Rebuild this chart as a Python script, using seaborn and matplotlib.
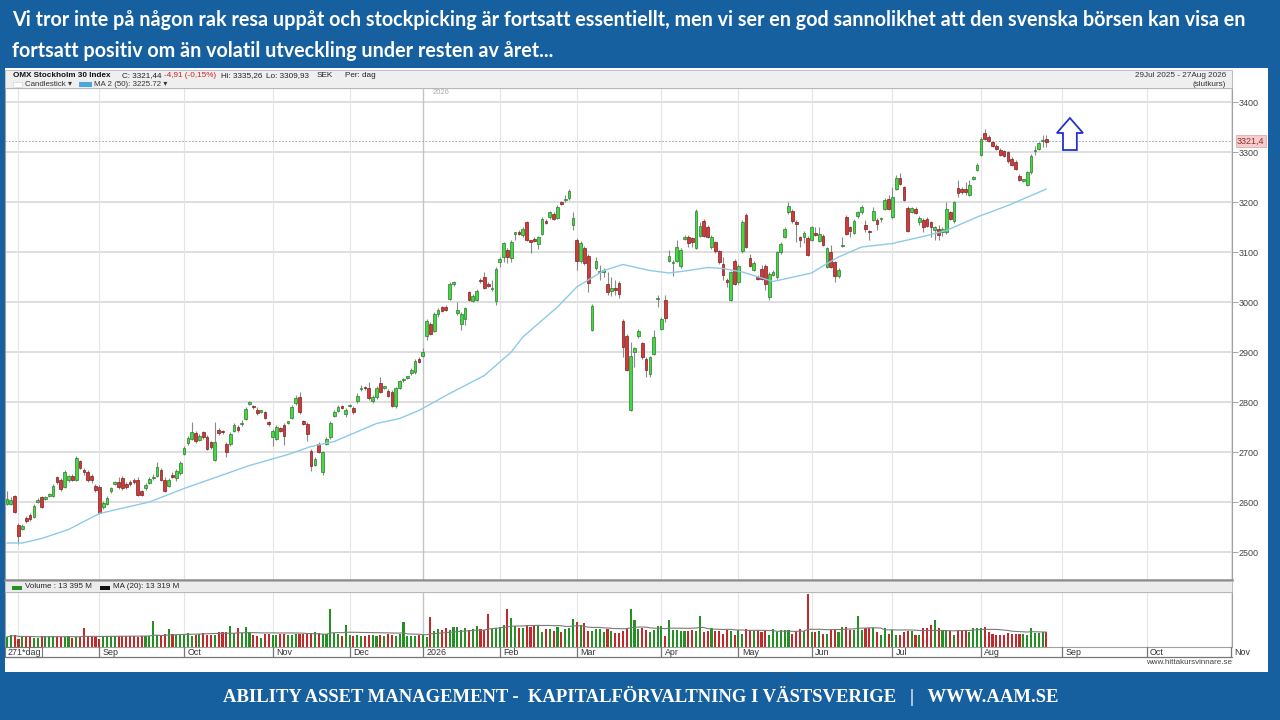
import pandas as pd
import matplotlib
matplotlib.use("Agg")
import matplotlib.pyplot as plt
import matplotlib.patches as mpatches
import seaborn as sns

# OMX Stockholm 30, daily candles (29 Jul 2025 -> late Aug 2026)
opens = [
    2597, 2597, 2612, 2555, 2547, 2568, 2574, 2571, 2600, 2610,
    2606, 2613, 2613, 2650, 2645, 2631, 2645, 2652, 2645, 2682,
    2664, 2660, 2652, 2633, 2631, 2590, 2597, 2622, 2637, 2640,
    2648, 2637, 2640, 2645, 2645, 2622, 2628, 2638, 2648, 2653,
    2665, 2645, 2633, 2655, 2649, 2658, 2697, 2718, 2727, 2739,
    2725, 2740, 2731, 2720, 2685, 2745, 2741, 2717, 2717, 2743,
    2751, 2756, 2767, 2797, 2791, 2785, 2781, 2780, 2758, 2730,
    2727, 2748, 2755, 2759, 2769, 2798, 2810, 2762, 2757, 2703,
    2675, 2717, 2660, 2717, 2730, 2773, 2783, 2792, 2777, 2792,
    2788, 2802, 2826, 2829, 2828, 2803, 2810, 2839, 2829, 2823,
    2821, 2792, 2829, 2844, 2849, 2858, 2860, 2887, 2893, 2933,
    2957, 2943, 2977, 2990, 2991, 3007, 3037, 2978, 2957, 2967,
    3020, 3003, 3005, 3045, 3051, 3035, 3026, 3003, 3080, 3090,
    3105, 3089, 3137, 3141, 3135, 3160, 3122, 3127, 3117, 3137,
    3163, 3170, 3177, 3169, 3199, 3204, 3208, 3155, 3125, 3082,
    3109, 3093, 2945, 3068, 3060, 3060, 3037, 3023, 3026, 3039,
    2963, 2933, 2785, 2900, 2932, 2918, 2887, 2857, 2897, 3006,
    2947, 3005, 3083, 3078, 3083, 3072, 3127, 3130, 3128, 3109,
    3133, 3163, 3151, 3110, 3120, 3102, 3077, 3045, 3005, 3083,
    3040, 3102, 3175, 3089, 3065, 3051, 3067, 3073, 3010, 3055,
    3050, 3100, 3131, 3180, 3183, 3158, 3130, 3130, 3129, 3125,
    3138, 3123, 3133, 3071, 3101, 3080, 3052, 3112, 3171, 3150,
    3139, 3172, 3180, 3155, 3141, 3165, 3165, 3166, 3187, 3207,
    3170, 3227, 3248, 3230, 3189, 3181, 3187, 3160, 3165, 3167,
    3160, 3145, 3147, 3140, 3140, 3180, 3162, 3229, 3227, 3227,
    3215, 3247, 3265, 3295, 3338, 3330, 3320, 3313, 3305, 3302,
    3300, 3287, 3281, 3253, 3243, 3235, 3260, 3302, 3307, 3322, 3326,
]
closes = [
    2607, 2605, 2580, 2533, 2553, 2563, 2567, 2593, 2605, 2591,
    2610, 2616, 2633, 2640, 2627, 2660, 2652, 2645, 2689, 2669,
    2660, 2645, 2645, 2625, 2578, 2598, 2608, 2628, 2640, 2630,
    2629, 2631, 2637, 2640, 2615, 2615, 2635, 2647, 2650, 2671,
    2645, 2623, 2645, 2651, 2663, 2678, 2709, 2729, 2740, 2722,
    2733, 2730, 2707, 2710, 2721, 2738, 2740, 2701, 2737, 2755,
    2745, 2757, 2787, 2798, 2790, 2778, 2782, 2769, 2757, 2742,
    2751, 2743, 2733, 2760, 2791, 2808, 2780, 2757, 2737, 2673,
    2687, 2701, 2700, 2727, 2759, 2780, 2790, 2789, 2785, 2793,
    2780, 2813, 2827, 2828, 2808, 2810, 2828, 2821, 2830, 2813,
    2793, 2828, 2842, 2845, 2850, 2865, 2883, 2881, 2901, 2963,
    2937, 2977, 2985, 2983, 2985, 3037, 3038, 2985, 2977, 2988,
    3005, 3013, 3023, 3042, 3029, 3033, 3027, 3067, 3087, 3118,
    3090, 3121, 3138, 3137, 3147, 3125, 3121, 3123, 3130, 3167,
    3159, 3180, 3167, 3191, 3197, 3205, 3223, 3168, 3083, 3119,
    3078, 3039, 2993, 3083, 3061, 3065, 3020, 3029, 3025, 3017,
    2910, 2865, 2892, 2908, 2943, 2890, 2865, 2890, 2930, 3007,
    2967, 2968, 3093, 3079, 3110, 3105, 3131, 3118, 3121, 3183,
    3153, 3133, 3131, 3131, 3102, 3080, 3055, 3041, 3060, 3037,
    3073, 3160, 3111, 3073, 3079, 3047, 3047, 3037, 3057, 3061,
    3100, 3117, 3147, 3193, 3162, 3157, 3125, 3139, 3095, 3150,
    3135, 3137, 3115, 3108, 3071, 3053, 3065, 3113, 3137, 3143,
    3163, 3180, 3191, 3147, 3140, 3182, 3157, 3167, 3205, 3187,
    3211, 3248, 3237, 3205, 3143, 3188, 3179, 3169, 3150, 3153,
    3150, 3150, 3135, 3147, 3187, 3167, 3200, 3218, 3220, 3220,
    3235, 3248, 3275, 3327, 3327, 3323, 3313, 3307, 3295, 3293,
    3282, 3275, 3267, 3245, 3244, 3260, 3293, 3303, 3318, 3325, 3321,
]
highs = [
    2622, 2610, 2615, 2558, 2556, 2572, 2578, 2596, 2608, 2612,
    2613, 2619, 2636, 2653, 2649, 2664, 2655, 2656, 2692, 2684,
    2668, 2664, 2657, 2637, 2634, 2602, 2612, 2631, 2643, 2650,
    2652, 2641, 2645, 2648, 2650, 2625, 2638, 2651, 2656, 2681,
    2668, 2650, 2649, 2660, 2666, 2682, 2712, 2733, 2760, 2742,
    2737, 2743, 2735, 2723, 2760, 2748, 2744, 2720, 2740, 2758,
    2754, 2765, 2790, 2803, 2794, 2790, 2785, 2783, 2762, 2746,
    2755, 2751, 2758, 2763, 2794, 2815, 2820, 2765, 2760, 2706,
    2690, 2720, 2703, 2730, 2762, 2784, 2794, 2795, 2788, 2797,
    2792, 2818, 2835, 2832, 2840, 2814, 2832, 2850, 2833, 2826,
    2824, 2831, 2845, 2848, 2853, 2868, 2887, 2890, 2909, 2966,
    2960, 2980, 2988, 2993, 2995, 3040, 3042, 3000, 2980, 2991,
    3023, 3016, 3026, 3048, 3060, 3040, 3045, 3070, 3090, 3121,
    3108, 3124, 3141, 3144, 3150, 3163, 3124, 3130, 3133, 3170,
    3166, 3183, 3180, 3194, 3202, 3215, 3226, 3180, 3128, 3122,
    3112, 3096, 2996, 3090, 3075, 3068, 3060, 3050, 3045, 3042,
    2966, 2936, 2920, 2911, 2946, 2921, 2890, 2893, 2945, 3015,
    2970, 3015, 3105, 3085, 3125, 3108, 3134, 3135, 3131, 3186,
    3160, 3166, 3154, 3134, 3123, 3105, 3090, 3048, 3063, 3086,
    3076, 3165, 3178, 3096, 3083, 3054, 3075, 3076, 3060, 3064,
    3103, 3120, 3150, 3200, 3186, 3165, 3133, 3142, 3132, 3153,
    3150, 3150, 3136, 3111, 3115, 3083, 3068, 3130, 3174, 3153,
    3166, 3183, 3194, 3165, 3145, 3190, 3168, 3170, 3208, 3215,
    3230, 3255, 3258, 3233, 3192, 3191, 3190, 3172, 3168, 3170,
    3163, 3153, 3155, 3150, 3200, 3183, 3203, 3245, 3230, 3240,
    3245, 3252, 3278, 3330, 3347, 3335, 3323, 3316, 3308, 3305,
    3303, 3290, 3284, 3256, 3247, 3263, 3296, 3312, 3321, 3335, 3335,
]
lows = [
    2595, 2595, 2578, 2517, 2544, 2558, 2563, 2569, 2598, 2589,
    2604, 2611, 2611, 2636, 2622, 2628, 2641, 2642, 2643, 2666,
    2655, 2641, 2638, 2620, 2576, 2586, 2595, 2619, 2634, 2627,
    2625, 2627, 2633, 2636, 2612, 2612, 2625, 2636, 2645, 2650,
    2642, 2620, 2630, 2648, 2643, 2655, 2694, 2715, 2724, 2718,
    2722, 2726, 2704, 2706, 2682, 2735, 2736, 2690, 2713, 2740,
    2741, 2752, 2765, 2794, 2787, 2775, 2778, 2766, 2752, 2712,
    2724, 2740, 2715, 2756, 2766, 2795, 2777, 2754, 2722, 2662,
    2672, 2698, 2655, 2714, 2727, 2770, 2780, 2786, 2770, 2790,
    2776, 2799, 2823, 2825, 2805, 2799, 2807, 2818, 2826, 2810,
    2790, 2789, 2826, 2841, 2846, 2855, 2857, 2878, 2890, 2925,
    2934, 2940, 2970, 2980, 2982, 3004, 3033, 2975, 2945, 2955,
    3002, 3000, 3002, 3039, 3026, 3030, 3023, 2995, 3070, 3080,
    3078, 3080, 3124, 3134, 3130, 3122, 3098, 3120, 3107, 3134,
    3156, 3167, 3164, 3166, 3194, 3201, 3205, 3145, 3065, 3079,
    3075, 3020, 2942, 3065, 3045, 3050, 3015, 3012, 3015, 3008,
    2890, 2862, 2782, 2870, 2929, 2887, 2850, 2850, 2894, 2990,
    2944, 2960, 3080, 3053, 3080, 3069, 3124, 3110, 3110, 3106,
    3130, 3130, 3128, 3107, 3099, 3077, 3045, 3030, 3002, 3034,
    3037, 3099, 3108, 3070, 3062, 3044, 3044, 3025, 3005, 3052,
    3047, 3097, 3128, 3177, 3159, 3120, 3110, 3118, 3092, 3122,
    3132, 3120, 3112, 3068, 3068, 3040, 3049, 3110, 3134, 3130,
    3136, 3169, 3177, 3140, 3125, 3162, 3145, 3160, 3184, 3184,
    3167, 3224, 3234, 3202, 3140, 3178, 3176, 3155, 3140, 3150,
    3130, 3125, 3125, 3132, 3137, 3164, 3159, 3210, 3217, 3215,
    3212, 3244, 3262, 3292, 3324, 3320, 3310, 3304, 3292, 3290,
    3279, 3272, 3264, 3242, 3240, 3232, 3257, 3295, 3304, 3310, 3310,
]
# daily turnover, billions SEK (one row per month)
volume_bn = [
    9.0, 10.5, 11.0,
    7.5, 9.0, 9.2, 9.5, 7.8, 8.0, 9.6, 9.4, 9.8, 9.5, 9.0, 9.0, 8.8, 9.7, 8.0, 9.2, 9.0, 17.0, 9.5, 10.0, 8.5,
    7.0, 9.5, 9.5, 9.6, 9.4, 9.5, 9.8, 9.6, 9.5, 9.8, 9.0, 10.0, 10.2, 10.0, 23.0, 10.5, 10.8, 12.0, 16.0, 11.5, 10.5, 11.0,
    12.0, 12.5, 10.0, 11.0, 12.0, 12.5, 11.0, 10.5, 11.0, 13.0, 13.5, 13.0, 19.0, 12.5, 17.0, 12.5, 18.0, 13.0, 11.0, 10.0, 8.0, 12.0, 11.5,
    11.0, 10.5, 11.5, 12.0, 10.5, 11.0, 12.0, 11.5, 12.0, 12.0, 12.5, 13.0, 12.5, 11.5, 11.5, 34.0, 12.5, 11.5, 10.0, 20.0,
    11.0, 10.0, 10.5, 9.5, 10.0, 11.0, 10.5, 10.0, 11.0, 10.0, 11.5, 11.0, 10.0, 11.5, 22.0, 9.5, 9.5, 10.0, 10.5,
    11.0, 9.0, 27.0, 14.0, 16.0, 15.0, 16.5, 15.0, 17.5, 17.5, 15.5, 16.5, 15.0, 16.0, 19.0, 16.0, 15.0, 29.0, 16.0, 17.0,
    18.0, 20.0, 34.0, 26.0, 18.5, 17.0, 17.0, 20.0, 18.0, 19.0, 19.0, 13.5, 16.0, 16.0, 14.0, 18.0, 13.0, 16.0, 16.5, 25.0,
    22.0, 20.0, 21.0, 14.5, 14.5, 16.0, 16.0, 13.0, 16.0, 14.0, 12.5, 12.5, 14.0, 17.0, 34.0, 24.0, 16.0, 17.0, 15.0, 13.0, 15.0, 19.0,
    19.0, 9.5, 24.0, 15.0, 15.0, 14.0, 14.0, 14.0, 15.0, 14.0, 28.0, 13.5, 14.0, 16.5, 14.0, 14.0, 11.5, 15.5, 14.5, 11.0,
    15.0, 12.0, 16.0, 15.5, 14.0, 15.0, 13.0, 14.0, 11.0, 16.0, 13.5, 15.0, 15.0, 15.0, 12.0, 14.0, 16.0, 14.0, 47.0,
    13.0, 13.5, 14.0, 11.5, 11.5, 15.0, 15.5, 13.0, 18.0, 18.0, 15.5, 15.5, 28.0, 15.0, 16.5, 16.5, 16.5, 13.0, 10.5, 16.5, 11.5,
    15.5, 10.5, 10.5, 13.0, 14.5, 14.5, 11.0, 11.0, 16.5, 16.5, 20.0, 24.0, 16.5, 15.5, 15.5, 14.0, 11.0, 14.5, 15.5, 15.5, 13.5, 17.0, 17.0,
    17.0, 17.8, 13.4, 11.7, 11.1, 11.1, 10.5, 12.5, 11.7, 11.7, 11.7, 11.7, 11.1, 17.0, 12.5, 12.5, 13.4, 13.395,
]
# MA(50) read at a few trading-day positions
ma50_day = [0, 4, 9, 16, 24, 37, 46, 63, 73, 79, 85, 96, 102, 107, 115, 124, 131, 134, 143, 148,
            155, 160, 167, 172, 177, 182, 186, 191, 199, 209, 213, 216, 222, 230, 239, 244, 252, 260, 270]
ma50_val = [2518, 2518, 2527, 2545, 2577, 2600, 2627, 2673, 2695, 2711, 2721, 2757, 2767, 2783, 2817, 2853, 2900, 2930, 2990, 3030,
            3063, 3075, 3063, 3058, 3063, 3069, 3067, 3060, 3041, 3058, 3077, 3090, 3110, 3117, 3133, 3143, 3170, 3193, 3226]

price_ticks = [2500, 2600, 2700, 2800, 2900, 3000, 3100, 3200, 3300, 3400]
last_close = 3321.44
se_holidays = ["2025-12-24", "2025-12-25", "2025-12-26", "2025-12-31", "2026-01-01", "2026-01-06",
               "2026-04-03", "2026-04-06", "2026-05-01", "2026-05-14", "2026-06-19"]

title_lines = [
    "Vi tror inte på någon rak resa uppåt och stockpicking är fortsatt essentiellt, men vi ser en god sannolikhet att den svenska börsen kan visa en",
    "fortsatt positiv om än volatil utveckling under resten av året...",
]
footer = "ABILITY ASSET MANAGEMENT -  KAPITALFÖRVALTNING I VÄSTSVERIGE   |   WWW.AAM.SE"

BLUE = "#17609f"
GREEN_BODY, GREEN_EDGE = "#45d845", "#2b7a2b"
RED_BODY, RED_EDGE = "#d23a3a", "#7d1f1f"

sns.set_theme(style="white")
plt.rcParams["font.family"] = ["Liberation Sans", "DejaVu Sans"]

W, H = 1280, 720


def fx(px):
    return px / W


def fy(py):
    return 1 - py / H


df = pd.DataFrame({"open": opens, "close": closes, "high": highs, "low": lows, "vol": volume_bn})
df["i"] = range(len(df))
df["up"] = df["close"] >= df["open"]
df["vol_ma"] = df["vol"].rolling(20, min_periods=1).mean()

cbd = pd.offsets.CustomBusinessDay(holidays=se_holidays)
dates = pd.date_range("2025-07-29", periods=330, freq=cbd)
month_starts = [k for k in range(1, len(dates)) if dates[k].month != dates[k - 1].month]

XMIN, XMAX = -0.5, 318.2

fig = plt.figure(figsize=(12.8, 7.2), dpi=100)
fig.patch.set_facecolor(BLUE)
renderer = fig.canvas.get_renderer()

fig.add_artist(mpatches.Rectangle((fx(5), fy(672)), fx(1263), 604 / H, transform=fig.transFigure,
                                  facecolor="white", edgecolor="none", zorder=0))
# chart header strip
fig.add_artist(mpatches.Rectangle((fx(5), fy(88)), fx(1227), 18 / H, transform=fig.transFigure,
                                  facecolor="#efefef", edgecolor="#b5b5b5", lw=0.6, zorder=1))
# volume header strip
fig.add_artist(mpatches.Rectangle((fx(5), fy(592)), fx(1227), 11 / H, transform=fig.transFigure,
                                  facecolor="#ececec", edgecolor="#b5b5b5", lw=0.6, zorder=1))

# banner texts
for line, ypx in zip(title_lines, [20, 51]):
    fig.text(fx(12), fy(ypx), line, color="white", fontsize=14.2, fontweight="bold",
             family=["Lato", "DejaVu Sans"], va="center", ha="left")
fig.text(fx(641), fy(696), footer, color="white", fontsize=13.4, fontweight="bold",
         family=["Liberation Serif", "DejaVu Serif"], va="center", ha="center")

# ---- price panel ----
ax = fig.add_axes([fx(5), fy(580), fx(1227), 492 / H])
ax.set_facecolor("white")
for p in price_ticks:
    ax.axhline(p, color="#dedede", lw=1.4, zorder=0)
for k in month_starts:
    jan = dates[k].month == 1
    ax.axvline(k, color="#c4c4c4" if jan else "#e4e4e4", lw=1.0 if jan else 0.8, zorder=0)

ax.vlines(df["i"], df["low"], df["high"], color="#8a8a8a", lw=0.8, zorder=2)
for up, body, edge in [(True, GREEN_BODY, GREEN_EDGE), (False, RED_BODY, RED_EDGE)]:
    d = df[df["up"] == up]
    lo = d[["open", "close"]].min(axis=1)
    h = (d["close"] - d["open"]).abs().clip(lower=2.5)
    ax.bar(d["i"], h, bottom=lo, width=0.7, color=body, edgecolor=edge, linewidth=0.5, zorder=3)

sns.lineplot(x=ma50_day, y=ma50_val, ax=ax, color="#8ccbe8", lw=1.0, zorder=4)
ax.axhline(last_close, color="#9a9a9a", lw=0.6, ls=(0, (2, 2)), zorder=1)

ax.set_xlim(XMIN, XMAX)
ax.set_ylim(2444, 3428)
ax.yaxis.tick_right()
ax.set_yticks(price_ticks)
ax.set_yticklabels([str(p) for p in price_ticks])
ax.tick_params(axis="y", right=True, length=4, width=0.6, color="#999999", labelsize=6.5,
               labelcolor="#444444", pad=1)
ax.set_xticks([])
ax.set_xlabel("")
ax.set_ylabel("")
for s in ax.spines.values():
    s.set_color("#a0a0a0")
    s.set_linewidth(0.8)
ax.spines["bottom"].set_linewidth(1.8)
ax.spines["bottom"].set_color("#8c8c8c")

jan_idx = [k for k in month_starts if dates[k].month == 1][0]
ax.text(jan_idx + 2.5, 3419, "2026", fontsize=5.5, color="#aaaaaa", va="center", ha="left")
ax.text(1.004, last_close, "3321,4", transform=ax.get_yaxis_transform(), fontsize=6.5,
        color="#8a3030", va="center", ha="left", clip_on=False,
        bbox=dict(boxstyle="square,pad=0.15", facecolor="#f6cccc", edgecolor="#e0a0a0", lw=0.5))

# the blue "upwards" arrow
ax.add_patch(mpatches.FancyArrow(276.1, 3304, 0, 64, width=3.6, head_width=6.8, head_length=30,
                                 length_includes_head=True, facecolor="white", edgecolor="#2233cc",
                                 lw=1.3, zorder=5))

# ---- volume panel ----
axv = fig.add_axes([fx(5), fy(647), fx(1227), 55 / H])
axv.set_facecolor("white")
for k in month_starts:
    jan = dates[k].month == 1
    axv.axvline(k, color="#c4c4c4" if jan else "#e4e4e4", lw=1.0 if jan else 0.8, zorder=0)
vcols = ["#229022" if u else "#c3282b" for u in df["up"]]
axv.bar(df["i"], df["vol"], width=0.55, color=vcols, linewidth=0, zorder=2)
sns.lineplot(x=df["i"], y=df["vol_ma"], ax=axv, color="#7a7a7a", lw=0.8, zorder=3)
axv.set_xlim(XMIN, XMAX)
axv.set_ylim(0, 49)
axv.set_xticks([])
axv.set_yticks([])
axv.set_xlabel("")
axv.set_ylabel("")
for s in axv.spines.values():
    s.set_color("#a0a0a0")
    s.set_linewidth(0.8)

# ---- month label strip ----
axl = fig.add_axes([fx(5), fy(657), fx(1227), 10 / H])
axl.set_xlim(XMIN, XMAX)
axl.set_ylim(0, 1)
axl.axis("off")
axl.axhline(0, color="#777777", lw=0.9, clip_on=False)
for k in month_starts[1:]:
    axl.plot([k, k], [0, 1], color="#777777", lw=0.9, clip_on=False)
    lab = "2026" if dates[k].month == 1 else dates[k].strftime("%b")
    axl.text(k + 0.9, 0.45, lab, fontsize=6.4, color="#333333", va="center", ha="left", clip_on=False)
axl.add_patch(mpatches.Rectangle((XMIN, 0), 9.6, 1, facecolor="none", edgecolor="#777777", lw=0.8,
                                 clip_on=False))
axl.text(0.2, 0.45, "271*dag", fontsize=6.4, color="#333333", va="center", ha="left")


def chain(parts, x0, ypx, size):
    # header pieces placed one after another so they never collide
    x = x0
    for s, color, weight, gap in parts:
        t = fig.text(fx(x), fy(ypx), s, fontsize=size, color=color, fontweight=weight, va="center")
        x = t.get_window_extent(renderer).x1 + gap


chain([("OMX Stockholm 30 Index", "#111111", "bold", 12),
       ("C: 3321,44", "#222222", "normal", 2),
       ("-4,91 (-0,15%)", "#cc2222", "normal", 5),
       ("Hi: 3335,26", "#222222", "normal", 4),
       ("Lo: 3309,93", "#222222", "normal", 7),
       ("SEK", "#222222", "normal", 12),
       ("Per: dag", "#222222", "normal", 0)], 13, 75.5, 5.9)

fig.add_artist(mpatches.Rectangle((fx(13), fy(86.5)), fx(9), 4.5 / H, transform=fig.transFigure,
                                  facecolor="white", edgecolor="#cccccc", lw=0.4))
fig.text(fx(25), fy(84), "Candlestick ▾", fontsize=5.7, color="#333333", va="center")
fig.add_artist(mpatches.Rectangle((fx(79), fy(86.5)), fx(13), 4.5 / H, transform=fig.transFigure,
                                  facecolor="#4aa8e0", edgecolor="none"))
fig.text(fx(94), fy(84), "MA 2 (50): 3225.72 ▾", fontsize=5.7, color="#333333", va="center")
fig.text(fx(1226), fy(75.5), "29Jul 2025 - 27Aug 2026", fontsize=5.9, color="#333333", va="center", ha="right")
fig.text(fx(1226), fy(84), "(slutkurs)", fontsize=5.9, color="#333333", va="center", ha="right")

# volume legend
fig.add_artist(mpatches.Rectangle((fx(12), fy(589.5)), fx(10), 4 / H, transform=fig.transFigure,
                                  facecolor="#229022", edgecolor="none"))
fig.text(fx(25), fy(587), "Volume : 13 395 M", fontsize=5.8, color="#222222", va="center")
fig.add_artist(mpatches.Rectangle((fx(100), fy(589.5)), fx(10), 4 / H, transform=fig.transFigure,
                                  facecolor="#111111", edgecolor="none"))
fig.text(fx(113), fy(587), "MA (20): 13 319 M", fontsize=5.8, color="#222222", va="center")

fig.text(fx(1232), fy(662.5), "www.hittakursvinnare.se", fontsize=5.8, color="#444444", va="center", ha="right")

fig.savefig("out.png", dpi=100, facecolor=fig.get_facecolor())
